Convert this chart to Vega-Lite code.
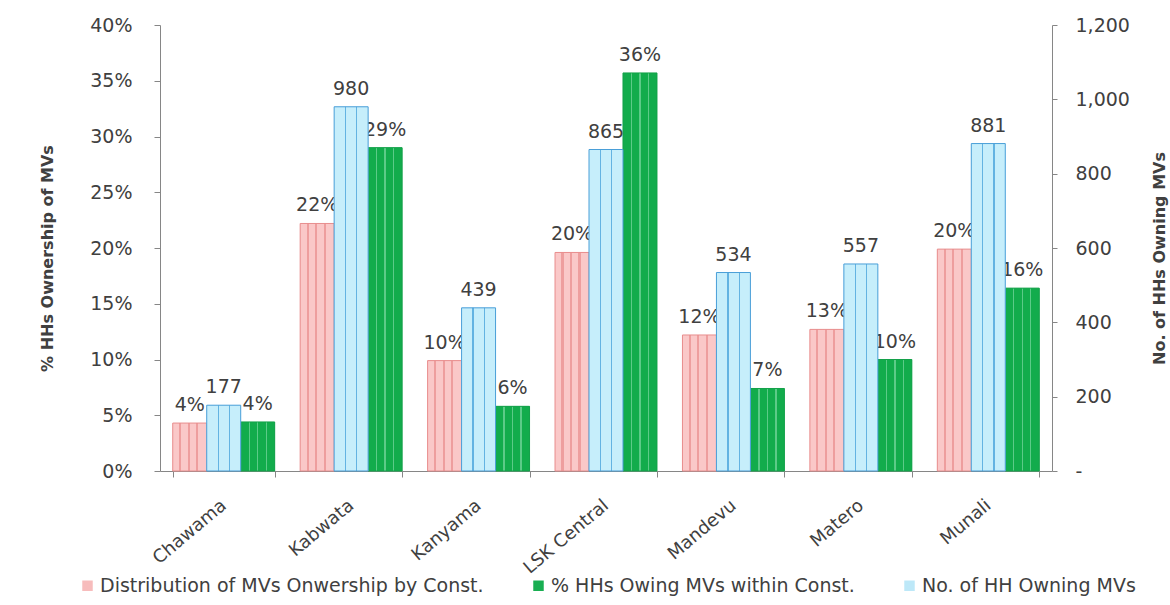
{
  "$schema": "https://vega.github.io/schema/vega-lite/v6.json",
  "width": 892,
  "height": 446,
  "autosize": {"type": "none"},
  "padding": {"left": 160, "top": 25, "right": 118, "bottom": 134},
  "background": "white",
  "config": {
    "font": "DejaVu Sans",
    "view": {"stroke": null},
    "axis": {
      "domainColor": "#868686",
      "tickColor": "#868686",
      "labelColor": "#404040",
      "titleColor": "#404040",
      "grid": false
    }
  },
  "data": {
    "values": [
      {"const": "Chawama", "series": "Distribution of MVs Onwership by Const.", "value": 0.043},
      {"const": "Chawama", "series": "% HHs Owing MVs within Const.", "value": 0.044},
      {"const": "Chawama", "series": "No. of HH Owning MVs", "value": 177},
      {"const": "Kabwata", "series": "Distribution of MVs Onwership by Const.", "value": 0.222},
      {"const": "Kabwata", "series": "% HHs Owing MVs within Const.", "value": 0.29},
      {"const": "Kabwata", "series": "No. of HH Owning MVs", "value": 980},
      {"const": "Kanyama", "series": "Distribution of MVs Onwership by Const.", "value": 0.099},
      {"const": "Kanyama", "series": "% HHs Owing MVs within Const.", "value": 0.058},
      {"const": "Kanyama", "series": "No. of HH Owning MVs", "value": 439},
      {"const": "LSK Central", "series": "Distribution of MVs Onwership by Const.", "value": 0.196},
      {"const": "LSK Central", "series": "% HHs Owing MVs within Const.", "value": 0.357},
      {"const": "LSK Central", "series": "No. of HH Owning MVs", "value": 865},
      {"const": "Mandevu", "series": "Distribution of MVs Onwership by Const.", "value": 0.122},
      {"const": "Mandevu", "series": "% HHs Owing MVs within Const.", "value": 0.074},
      {"const": "Mandevu", "series": "No. of HH Owning MVs", "value": 534},
      {"const": "Matero", "series": "Distribution of MVs Onwership by Const.", "value": 0.127},
      {"const": "Matero", "series": "% HHs Owing MVs within Const.", "value": 0.1},
      {"const": "Matero", "series": "No. of HH Owning MVs", "value": 557},
      {"const": "Munali", "series": "Distribution of MVs Onwership by Const.", "value": 0.199},
      {"const": "Munali", "series": "% HHs Owing MVs within Const.", "value": 0.164},
      {"const": "Munali", "series": "No. of HH Owning MVs", "value": 881}
    ]
  },
  "encoding": {
    "x": {
      "field": "const",
      "type": "nominal",
      "sort": null,
      "scale": {"paddingInner": 0.2, "paddingOuter": 0.1},
      "axis": {
        "title": null,
        "labelAngle": -40,
        "labelAlign": "right",
        "labelBaseline": "middle",
        "labelFontSize": 18,
        "labelPadding": 26,
        "tickBand": "extent",
        "tickSize": 6
      }
    },
    "xOffset": {
      "field": "series",
      "type": "nominal",
      "scale": {
        "domain": ["Distribution of MVs Onwership by Const.", "No. of HH Owning MVs", "% HHs Owing MVs within Const."],
        "paddingInner": 0,
        "paddingOuter": 0
      }
    }
  },
  "layer": [
    {
      "transform": [{"filter": "datum.series != 'No. of HH Owning MVs'"}],
      "encoding": {
        "y": {
          "field": "value",
          "type": "quantitative",
          "scale": {"domain": [0, 0.4], "nice": false},
          "axis": {
            "title": "% HHs Ownership of MVs",
            "format": ".0%",
            "values": [0, 0.05, 0.1, 0.15, 0.2, 0.25, 0.3, 0.35, 0.4],
            "tickSize": 6,
            "labelPadding": 22,
            "labelFontSize": 19,
            "titleFontSize": 16,
            "titleFontWeight": "bold",
            "titleAngle": -90,
            "titleX": -108,
            "titleY": 233,
            "titleBaseline": "alphabetic"
          }
        }
      },
      "layer": [
        {
          "mark": {"type": "bar"},
          "encoding": {
            "color": {
              "field": "series",
              "type": "nominal",
              "scale": {
                "domain": ["Distribution of MVs Onwership by Const.", "% HHs Owing MVs within Const.", "No. of HH Owning MVs"],
                "range": ["#F7BCBC", "#19AE52", "#BDE8F8"]
              },
              "legend": {
                "title": null,
                "orient": "none",
                "legendX": -82,
                "legendY": 551,
                "direction": "horizontal",
                "symbolType": "square",
                "symbolSize": 110,
                "labelFontSize": 19,
                "labelLimit": 0,
                "labelColor": "#404040",
                "columnPadding": 45,
                "labelOffset": 3
              }
            }
          }
        },
        {
          "transform": [{"filter": "datum.series == 'Distribution of MVs Onwership by Const.'"}],
          "mark": {
            "type": "bar",
            "stroke": "#E88E8E",
            "strokeWidth": 1,
            "fill": {
              "gradient": "linear", "x1": 0, "y1": 0, "x2": 1, "y2": 0,
              "stops": [
                {"offset": 0, "color": "#FAC8C8"},
                {"offset": 0.19, "color": "#FAC8C8"},
                {"offset": 0.19, "color": "#EE9E9E"},
                {"offset": 0.25, "color": "#EE9E9E"},
                {"offset": 0.25, "color": "#FAC8C8"},
                {"offset": 0.44, "color": "#FAC8C8"},
                {"offset": 0.44, "color": "#EE9E9E"},
                {"offset": 0.5, "color": "#EE9E9E"},
                {"offset": 0.5, "color": "#FAC8C8"},
                {"offset": 0.69, "color": "#FAC8C8"},
                {"offset": 0.69, "color": "#EE9E9E"},
                {"offset": 0.75, "color": "#EE9E9E"},
                {"offset": 0.75, "color": "#FAC8C8"},
                {"offset": 1, "color": "#FAC8C8"}
              ]
            }
          }
        },
        {
          "transform": [{"filter": "datum.series == '% HHs Owing MVs within Const.'"}],
          "mark": {
            "type": "bar",
            "stroke": "#14A14A",
            "strokeWidth": 1,
            "fill": {
              "gradient": "linear", "x1": 0, "y1": 0, "x2": 1, "y2": 0,
              "stops": [
                {"offset": 0, "color": "#12AC4C"},
                {"offset": 0.23, "color": "#12AC4C"},
                {"offset": 0.23, "color": "#5CCB88"},
                {"offset": 0.27, "color": "#5CCB88"},
                {"offset": 0.27, "color": "#12AC4C"},
                {"offset": 0.48, "color": "#12AC4C"},
                {"offset": 0.48, "color": "#5CCB88"},
                {"offset": 0.52, "color": "#5CCB88"},
                {"offset": 0.52, "color": "#12AC4C"},
                {"offset": 0.73, "color": "#12AC4C"},
                {"offset": 0.73, "color": "#5CCB88"},
                {"offset": 0.77, "color": "#5CCB88"},
                {"offset": 0.77, "color": "#12AC4C"},
                {"offset": 1, "color": "#12AC4C"}
              ]
            }
          }
        },
        {
          "mark": {"type": "text", "dy": -12, "baseline": "alphabetic", "fontSize": 19, "color": "#404040"},
          "encoding": {"text": {"field": "value", "type": "quantitative", "format": ".0%"}}
        }
      ]
    },
    {
      "transform": [{"filter": "datum.series == 'No. of HH Owning MVs'"}],
      "encoding": {
        "y": {
          "field": "value",
          "type": "quantitative",
          "scale": {"domain": [0, 1200], "nice": false},
          "axis": {
            "orient": "right",
            "title": "No. of HHs Owning MVs",
            "values": [0, 200, 400, 600, 800, 1000, 1200],
            "labelExpr": "datum.value === 0 ? '-' : format(datum.value, ',')",
            "tickSize": 5,
            "labelPadding": 18,
            "labelFontSize": 19,
            "titleFontSize": 16,
            "titleFontWeight": "bold",
            "titleAngle": -90,
            "titleX": 112,
            "titleY": 233,
            "titleBaseline": "alphabetic"
          }
        }
      },
      "layer": [
        {
          "mark": {"type": "bar"},
          "encoding": {
            "color": {
              "field": "series",
              "type": "nominal",
              "scale": {
                "domain": ["Distribution of MVs Onwership by Const.", "% HHs Owing MVs within Const.", "No. of HH Owning MVs"],
                "range": ["#F7BCBC", "#19AE52", "#BDE8F8"]
              }
            }
          }
        },
        {
          "mark": {
            "type": "bar",
            "stroke": "#4A9FD8",
            "strokeWidth": 1,
            "fill": {
              "gradient": "linear", "x1": 0, "y1": 0, "x2": 1, "y2": 0,
              "stops": [
                {"offset": 0, "color": "#C6EEFB"},
                {"offset": 0.32, "color": "#C6EEFB"},
                {"offset": 0.32, "color": "#63B3E2"},
                {"offset": 0.355, "color": "#63B3E2"},
                {"offset": 0.355, "color": "#C6EEFB"},
                {"offset": 0.65, "color": "#C6EEFB"},
                {"offset": 0.65, "color": "#63B3E2"},
                {"offset": 0.685, "color": "#63B3E2"},
                {"offset": 0.685, "color": "#C6EEFB"},
                {"offset": 1, "color": "#C6EEFB"}
              ]
            }
          }
        },
        {
          "mark": {"type": "text", "dy": -12, "baseline": "alphabetic", "fontSize": 19, "color": "#404040"},
          "encoding": {"text": {"field": "value", "type": "quantitative", "format": ","}}
        }
      ]
    }
  ],
  "resolve": {"scale": {"y": "independent"}}
}
